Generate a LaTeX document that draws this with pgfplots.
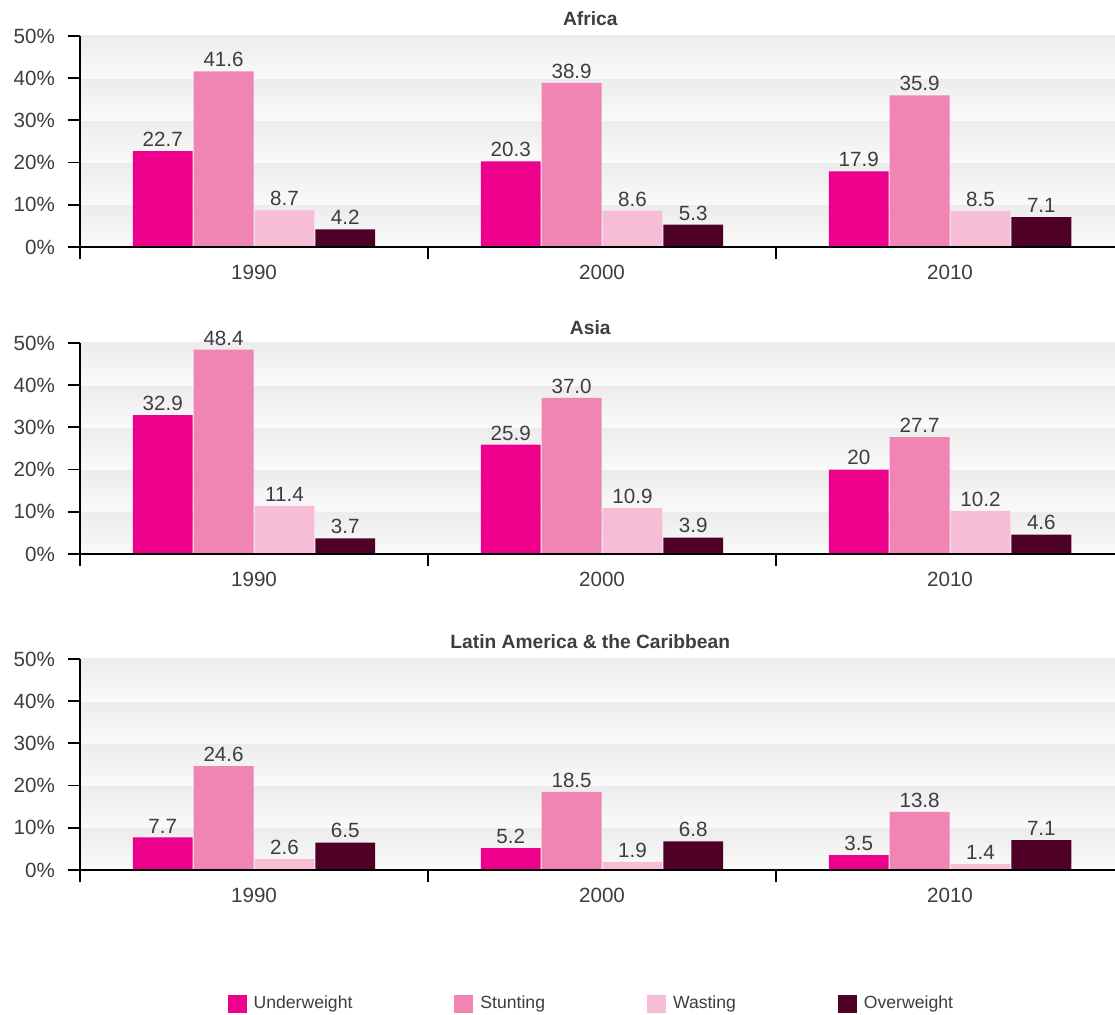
\documentclass[border=0pt]{standalone}
\usepackage{pgfplots}
\pgfplotsset{compat=1.18}
\usepackage{fontspec}
\setmainfont{Liberation Sans}
\definecolor{uw}{RGB}{236,0,140}
\definecolor{st}{RGB}{240,133,180}
\definecolor{wa}{RGB}{247,188,214}
\definecolor{ow}{RGB}{78,0,38}
\definecolor{txt}{RGB}{60,60,66}
\definecolor{bandtop}{RGB}{236,236,236}
\definecolor{bandbot}{RGB}{250,250,250}
\newcommand\bands{%
  \fill[top color=bandtop,bottom color=bandbot] (axis cs:0,0) rectangle (axis cs:2.974,10);
  \fill[top color=bandtop,bottom color=bandbot] (axis cs:0,10) rectangle (axis cs:2.974,20);
  \fill[top color=bandtop,bottom color=bandbot] (axis cs:0,20) rectangle (axis cs:2.974,30);
  \fill[top color=bandtop,bottom color=bandbot] (axis cs:0,30) rectangle (axis cs:2.974,40);
  \fill[top color=bandtop,bottom color=bandbot] (axis cs:0,40) rectangle (axis cs:2.974,50);
}
\pgfplotsset{
  region/.style={
    scale only axis, width=517.5pt, height=105.5pt,
    xmin=0, xmax=2.974, ymin=0, ymax=50,
    axis lines*=left, axis line style={line width=0.9pt, black},
    axis on top,
    ybar=0.5pt, bar width=0.172,
    xtick={0,1,2}, xticklabels={},
    extra x ticks={0.5,1.5,2.5}, extra x tick labels={1990,2000,2010},
    extra x tick style={tick style={draw=none}, tick label style={yshift=0.5pt}},
    ytick={0,10,20,30,40,50}, yticklabels={0\%,10\%,20\%,30\%,40\%,50\%},
    tick align=outside, major tick length=6pt,
    tick style={black, line width=0.9pt},
    tick label style={font=\fontsize{10.3}{12}\selectfont, color=txt},
    yticklabel style={xshift=-3pt},
    /pgf/number format/assume math mode=true,
    nodes near coords, point meta=explicit symbolic,
    every node near coord/.append style={font=\fontsize{10.3}{12}\selectfont, color=txt, inner sep=2pt},
    title style={font=\bfseries\fontsize{9.6}{11}\selectfont, color=txt, at={(0.493,1)}, anchor=center},
    sq/.style={legend image code/.code={\fill[##1] (0pt,-4.7pt) rectangle (9.5pt,4.7pt);}},
  }
}
\begin{document}
\begin{tikzpicture}
\useasboundingbox (0,0) rectangle (557.5pt,507.5pt);
% Africa
\begin{axis}[region, at={(40pt,384pt)}, anchor=south west, title={Africa}, title style={yshift=2.5pt}]
\bands
\addplot[fill=uw, draw=none] coordinates {(0.5,22.7) [22.7] (1.5,20.3) [20.3] (2.5,17.9) [17.9]};
\addplot[fill=st, draw=none] coordinates {(0.5,41.6) [41.6] (1.5,38.9) [38.9] (2.5,35.9) [35.9]};
\addplot[fill=wa, draw=none] coordinates {(0.5,8.7) [8.7] (1.5,8.6) [8.6] (2.5,8.5) [8.5]};
\addplot[fill=ow, draw=none] coordinates {(0.5,4.2) [4.2] (1.5,5.3) [5.3] (2.5,7.1) [7.1]};
\end{axis}
% Asia
\begin{axis}[region, at={(40pt,230.5pt)}, anchor=south west, title={Asia}, title style={yshift=1.5pt}]
\bands
\addplot[fill=uw, draw=none] coordinates {(0.5,32.9) [32.9] (1.5,25.9) [25.9] (2.5,20) [20]};
\addplot[fill=st, draw=none] coordinates {(0.5,48.4) [48.4] (1.5,37.0) [37.0] (2.5,27.7) [27.7]};
\addplot[fill=wa, draw=none] coordinates {(0.5,11.4) [11.4] (1.5,10.9) [10.9] (2.5,10.2) [10.2]};
\addplot[fill=ow, draw=none] coordinates {(0.5,3.7) [3.7] (1.5,3.9) [3.9] (2.5,4.6) [4.6]};
\end{axis}
% Latin America
\begin{axis}[region, at={(40pt,72.5pt)}, anchor=south west, title={Latin America \& the Caribbean}, title style={yshift=2.5pt},
  legend columns=4,
  legend style={draw=none, fill=none, at={(0.495,0)}, anchor=center, yshift=-67pt,
    font=\fontsize{8.8}{10}\selectfont, text=txt,
    /tikz/every odd column/.append style={column sep=1.5pt},
    /tikz/every even column/.append style={column sep=49pt}},
  legend cell align=left]
\bands
\addplot[fill=uw, draw=none, sq] coordinates {(0.5,7.7) [7.7] (1.5,5.2) [5.2] (2.5,3.5) [3.5]};
\addplot[fill=st, draw=none, sq] coordinates {(0.5,24.6) [24.6] (1.5,18.5) [18.5] (2.5,13.8) [13.8]};
\addplot[fill=wa, draw=none, sq] coordinates {(0.5,2.6) [2.6] (1.5,1.9) [1.9] (2.5,1.4) [1.4]};
\addplot[fill=ow, draw=none, sq] coordinates {(0.5,6.5) [6.5] (1.5,6.8) [6.8] (2.5,7.1) [7.1]};
\legend{Underweight,Stunting,Wasting,Overweight}
\end{axis}
\end{tikzpicture}
\end{document}
